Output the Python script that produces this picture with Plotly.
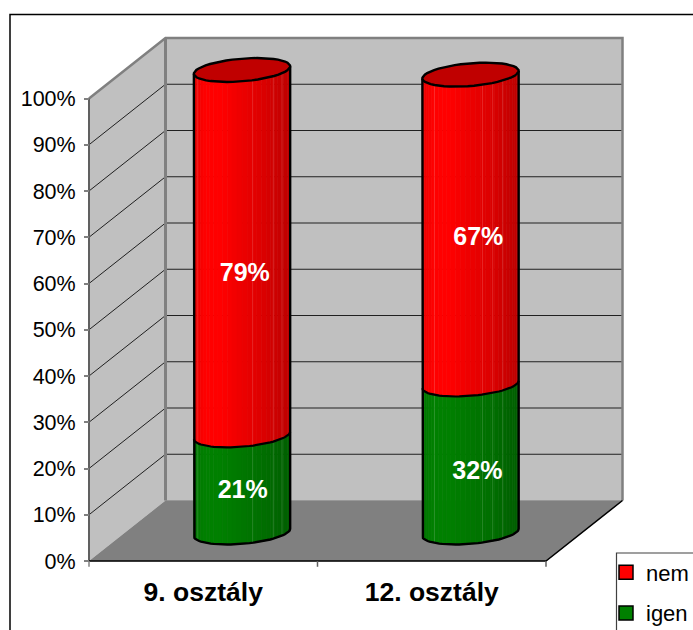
import math
import plotly.graph_objects as go

categories = ["9. osztály", "12. osztály"]
igen = [21, 32]
nem = [79, 67]
value_ticks = [0, 10, 20, 30, 40, 50, 60, 70, 80, 90, 100]

# Oblique projection: one unit of depth shifts a point right and up in data units.
W, H = 693, 630
X0_PX, Y0_PX = 89.0, 561.0
COL_PX, PCT_PX = 228.5, 4.625
DEPTH_COL = 76.5 / COL_PX
DEPTH_PCT = 60.5 / PCT_PX

BAR_DEPTH = 0.471
BAR_SHIFT = 0.012
R_COL, R_DEPTH = 0.2, 0.198
T0 = math.atan2(R_DEPTH * DEPTH_COL, R_COL)  # angle of the right silhouette

# Where the faint facet seams fall on each cylinder, as a share of its half width.
facets = [[-0.92, 0.22, 0.65, 0.83], [-0.75, 0.25, 0.46, 0.67]]
# Data labels sit a little under the segment middle and slightly off centre.
label_drop = {"igen": [1.7, 3.1], "nem": [4.7, 2.0]}
label_nudge = {"igen": [0.003, 0.03], "nem": [0.012, 0.034]}

GRAY = "#808080"
WALL = "#c0c0c0"


def proj(col, pct, depth):
    return col + depth * DEPTH_COL, pct + depth * DEPTH_PCT


def rim(center, pct, t):
    return proj(center + R_COL * math.cos(t), pct, BAR_DEPTH + R_DEPTH * math.sin(t))


def front_angles(a, b, n):
    return [a + (b - a) * i / n for i in range(n + 1)]


def poly(points, fill=None, line=None, width=1, close=False):
    xs = [p[0] for p in points]
    ys = [p[1] for p in points]
    if close:
        xs.append(xs[0])
        ys.append(ys[0])
    return go.Scatter(
        x=xs, y=ys, mode="lines", hoverinfo="skip", showlegend=False,
        fill="toself" if fill else "none", fillcolor=fill,
        line=dict(color=line or fill or "black", width=width if line or fill else 0),
    )


def shade(f):
    stops = [(0, 0.92), (0.12, 1.0), (0.28, 1.0), (0.5, 0.93), (0.75, 0.85), (1, 0.74)]
    for (a, va), (b, vb) in zip(stops, stops[1:]):
        if f <= b:
            return va + (vb - va) * (f - a) / (b - a)
    return stops[-1][1]


def tint(base, f):
    s = shade(f)
    return "rgb({},{},{})".format(*[round(c * s) for c in base])


fig = go.Figure()

# Walls and floor of the plot box
fig.add_trace(poly([proj(0, 0, 0), proj(0, 100, 0), proj(0, 100, 1), proj(0, 0, 1)], fill=WALL, width=0.5))
fig.add_trace(poly([proj(0, 0, 1), proj(0, 100, 1), proj(2, 100, 1), proj(2, 0, 1)], fill=WALL, width=0.5))
fig.add_trace(poly([proj(0, 0, 0), proj(2, 0, 0), proj(2, 0, 1), proj(0, 0, 1)], fill=GRAY, width=0.5))

# Gridlines
for v in value_ticks[1:-1]:
    fig.add_trace(poly([proj(0, v, 0), proj(0, v, 1), proj(2, v, 1)], line="#202020", width=1))

# Box edges
fig.add_trace(poly([proj(0, 100, 0), proj(0, 100, 1), proj(2, 100, 1), proj(2, 0, 1)], line=GRAY, width=2.5))
fig.add_trace(poly([proj(0, 100, 1), proj(0, 0, 1)], line=GRAY, width=3))
fig.add_trace(poly([proj(0, 100, 0), proj(0, 0, 0)], line="#606060", width=2))
fig.add_trace(poly([proj(0, 0, 0), proj(2, 0, 0), proj(2, 0, 1)], line="black", width=1.5))
for c in range(3):
    fig.add_trace(poly([(c, 0), (c, -1.25)], line="#606060" if c else GRAY, width=1.5))

# Cylinders, one stacked segment at a time
T_L, T_R = T0 + math.pi, T0 + 2 * math.pi
STRIPS = 30
for i in range(len(categories)):
    center = i + 0.5 + BAR_SHIFT
    for lo, hi, base in [(0, igen[i], (0, 128, 0)), (igen[i], igen[i] + nem[i], (255, 0, 0))]:
        ts = front_angles(T_L, T_R, STRIPS)
        for t1, t2 in zip(ts, ts[1:]):
            mid = (t1 + t2) / 2
            x_mid = math.cos(mid - T0)  # -1 on the left silhouette, +1 on the right
            color = tint(base, (x_mid + 1) / 2)
            arc = front_angles(t1, t2, 2)
            fig.add_trace(poly([rim(center, lo, t) for t in arc] + [rim(center, hi, t) for t in reversed(arc)],
                               fill=color, width=0.6, close=True))
        # faint seams running up the side
        for share in facets[i]:
            t = T0 + 2 * math.pi - math.acos(share)
            fig.add_trace(poly([rim(center, lo, t), rim(center, hi, t)], line="rgba(255,255,255,0.15)", width=1))

    total = igen[i] + nem[i]
    arc = front_angles(T_L, T_R, 40)
    # Outline: base curve, boundary between segments, silhouettes, lid
    fig.add_trace(poly([rim(center, total, T_L)] + [rim(center, 0, t) for t in arc] + [rim(center, total, T_R)],
                       line="black", width=2.4))
    fig.add_trace(poly([rim(center, igen[i], t) for t in arc], line="black", width=2.2))
    lid = [rim(center, total, 2 * math.pi * k / 48) for k in range(48)]
    fig.add_trace(poly(lid, fill="#c00000", line="black", width=2.4, close=True))

    # Segment labels
    for txt, mid_val, drop, nudge in [
        (igen[i], igen[i] / 2, label_drop["igen"][i], label_nudge["igen"][i]),
        (nem[i], igen[i] + nem[i] / 2, label_drop["nem"][i], label_nudge["nem"][i]),
    ]:
        lx, ly = proj(center, mid_val - drop, BAR_DEPTH)
        fig.add_trace(go.Scatter(
            x=[lx + nudge], y=[ly], mode="text", text=[f"{txt}%"], hoverinfo="skip", showlegend=False,
            textfont=dict(family="Liberation Sans", size=25, color="white", weight="bold"),
        ))

# Legend entries
for name, color in [("nem", "#ff0000"), ("igen", "#008000")]:
    fig.add_trace(go.Scatter(
        x=[None], y=[None], mode="markers", name=name, legendgroup=name, hoverinfo="skip",
        marker=dict(symbol="square", size=14, color=color, line=dict(color="black", width=1.5)),
    ))

fig.update_layout(
    width=W, height=H, autosize=False,
    margin=dict(l=0, r=0, t=0, b=0, autoexpand=False),
    paper_bgcolor="white", plot_bgcolor="white",
    font=dict(family="Liberation Sans", color="black"),
    hovermode=False,
    xaxis=dict(
        range=[-X0_PX / COL_PX, (W - X0_PX) / COL_PX], domain=[0, 1],
        anchor="free", position=(H - Y0_PX) / H,
        tickmode="array", tickvals=[0.5, 1.5], ticktext=categories,
        tickfont=dict(size=26.5, weight="bold"), ticks="", ticklabelstandoff=12,
        showgrid=False, zeroline=False, showline=False,
    ),
    yaxis=dict(
        range=[-(H - Y0_PX) / PCT_PX, Y0_PX / PCT_PX], domain=[0, 1],
        anchor="free", position=X0_PX / W,
        tickmode="array", tickvals=value_ticks, ticktext=[f"{v}%" for v in value_ticks],
        tickfont=dict(size=21.5), ticks="outside", ticklen=5, tickwidth=2, tickcolor=GRAY,
        ticklabelstandoff=4,
        showgrid=False, zeroline=False, showline=False,
    ),
    legend=dict(
        x=606 / W, y=1 - 551.5 / H, xanchor="left", yanchor="top",
        bgcolor="rgba(0,0,0,0)", borderwidth=0, tracegroupgap=9,
        font=dict(size=22), traceorder="grouped",
    ),
    shapes=[
        dict(type="rect", xref="paper", yref="paper", x0=10 / W, x1=1.02, y0=-0.02, y1=1 - 14.5 / H,
             line=dict(color="black", width=1.5), fillcolor="rgba(0,0,0,0)", layer="below"),
        dict(type="rect", xref="paper", yref="paper", x0=616.5 / W, x1=1.02, y0=-0.02, y1=1 - 553 / H,
             line=dict(color="#404040", width=1.2), fillcolor="white", layer="below"),
    ],
)

fig.write_html("out.html")
